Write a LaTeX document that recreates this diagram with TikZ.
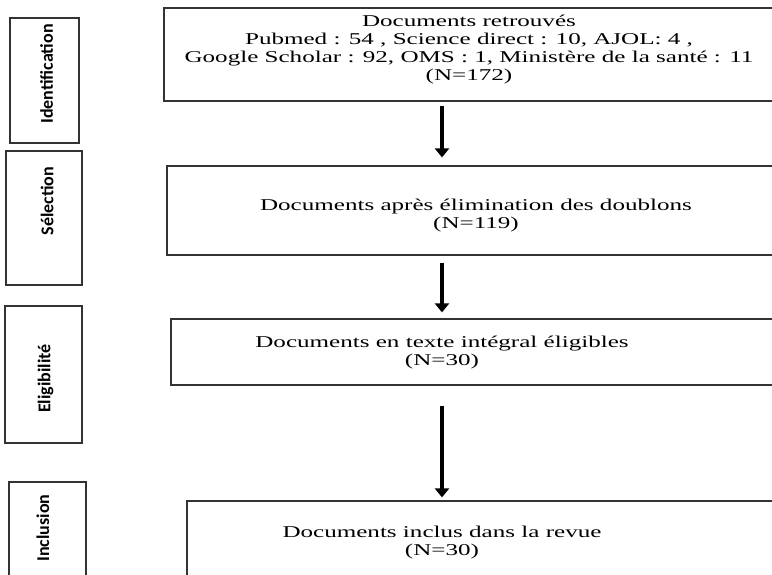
\documentclass[tikz,border=0pt]{standalone}
\usepackage{fontspec}
\setmainfont{Liberation Serif}
\newfontfamily\docfont[FakeStretch=1.52]{Liberation Serif}
\newfontfamily\phasefont{Carlito}
\usetikzlibrary{arrows.meta}

\begin{document}
\begin{tikzpicture}[x = 1pt, y = -1pt,
  docbox/.style = {draw = black!80, line width = 1.2pt, inner sep = 0pt},
  doctext/.style = {align = center, inner sep = 0pt, font = \docfont\fontsize{16.5}{18}\selectfont},
  phasetext/.style = {rotate = 90, inner sep = 0pt, font = \phasefont\bfseries\fontsize{18}{20}\selectfont},
  flow/.style = {line width = 4.5pt, -{Triangle[width = 14pt, length = 9pt]}}]
  \useasboundingbox (0,0) rectangle (772,574);

  % phase boxes on the left
  \node[docbox, minimum width = 69pt, minimum height = 125pt] (ident) at (44.5,80.5) {};
  \node[docbox, minimum width = 76pt, minimum height = 134pt] (select) at (44,218) {};
  \node[docbox, minimum width = 77pt, minimum height = 137pt] (elig) at (43.5,374.5) {};
  \node[docbox, minimum width = 77pt, minimum height = 138pt] (incl) at (47.5,551) {};
  \node[phasetext] (identtxt) at (46.5,74) {Identification};
  \node[phasetext] (selecttxt) at (47,201) {Sélection};
  \node[phasetext] (eligtxt) at (45.5,378.5) {Eligibilité};
  \node[phasetext] (incltxt) at (43,528) {Inclusion};

  % document boxes
  \node[docbox, minimum width = 636pt, minimum height = 93pt] (found) at (482,54.5) {};
  \node[docbox, minimum width = 633pt, minimum height = 89pt] (dedup) at (483.5,210.5) {};
  \node[docbox, minimum width = 629pt, minimum height = 66pt] (full) at (485.5,352) {};
  \node[docbox, minimum width = 613pt, minimum height = 119pt] (kept) at (493.5,560.5) {};
  \node[doctext] (foundtxt) at (469,50) {Documents retrouvés\\
    Pubmed : 54 , Science direct : 10, AJOL: 4 ,\\
    Google Scholar : 92, OMS : 1, Ministère de la santé : 11\\
    (N=172)};
  \node[doctext] (deduptxt) at (476,216) {Documents après élimination des doublons\\ (N=119)};
  \node[doctext] (fulltxt) at (442,353) {Documents en texte intégral éligibles\\ (N=30)};
  \node[doctext] (kepttxt) at (442,543) {Documents inclus dans la revue\\ (N=30)};

  % arrows
  \coordinate (axis) at (442,0);
  \draw[flow, shorten <= 4pt, shorten >= 8pt] (found.south -| axis) -- (dedup.north -| axis);
  \draw[flow, shorten <= 7pt, shorten >= 6pt] (dedup.south -| axis) -- (full.north -| axis);
  \draw[flow, shorten <= 20pt, shorten >= 3pt] (full.south -| axis) -- (kept.north -| axis);
\end{tikzpicture}
\end{document}
